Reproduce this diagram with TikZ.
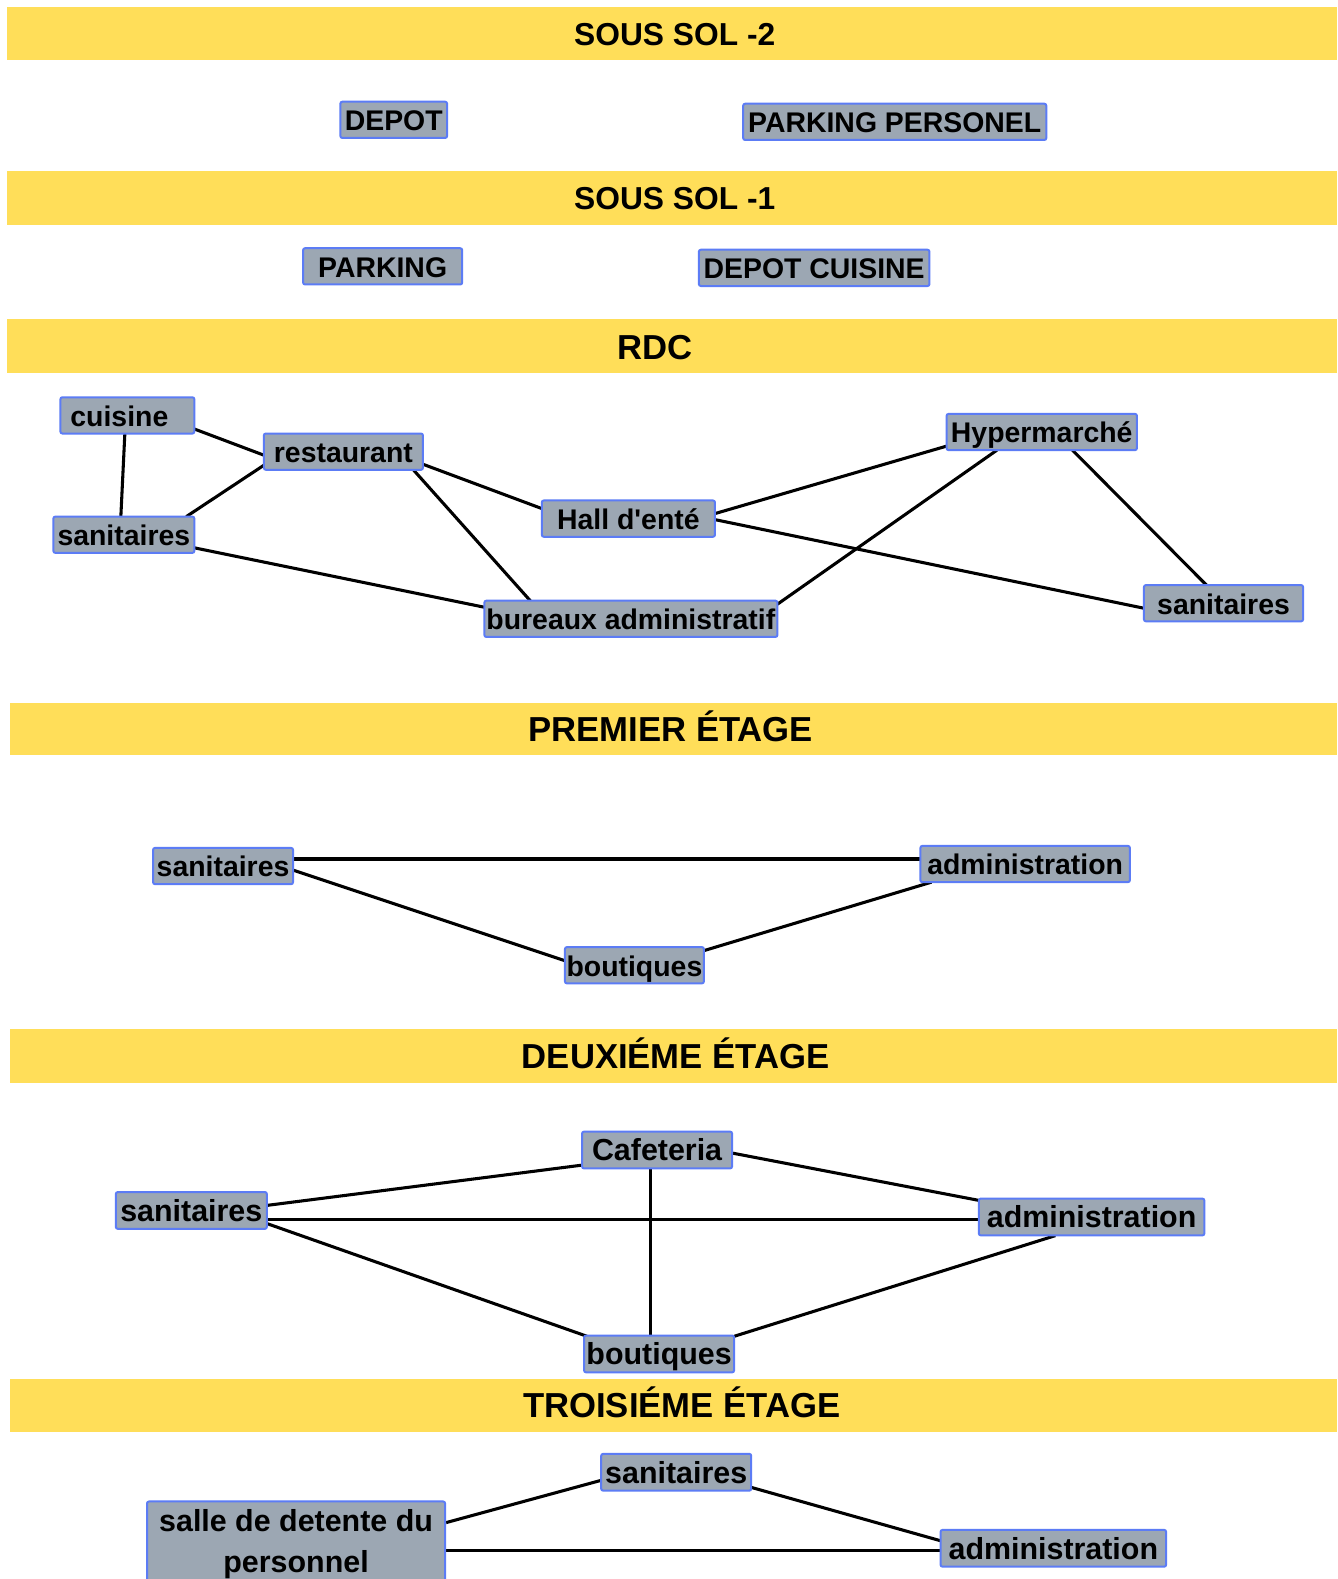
\documentclass[tikz,border=0pt]{standalone}
\usepackage{fontspec}
\usetikzlibrary{calc}
\newfontfamily\ls{Liberation Sans}
\definecolor{bandyellow}{HTML}{FFDE59}
\definecolor{boxgray}{HTML}{9CA7B3}
\definecolor{boxblue}{HTML}{5C7CF5}
\pgfdeclarelayer{back}
\pgfdeclarelayer{bg}
\pgfsetlayers{back,bg,main}
\tikzset{
  nb/.style={draw=boxblue, fill=boxgray, line width=1.5pt, rounded corners=1.5pt,
    inner xsep=0pt, inner ysep=0pt, minimum height=36*0.7551pt,
    text height=21.7pt, text depth=5.5pt, font=\ls\bfseries\fontsize{21.3}{25}\selectfont},
  nbb/.style={nb, minimum height=36.5*0.7551pt, text height=22pt, text depth=5.6pt,
    font=\ls\bfseries\fontsize{22.8}{27}\selectfont},
  w/.style={minimum width=#1*0.7551pt},
  title/.style={anchor=base, inner sep=0pt, font=\ls\bfseries\fontsize{26}{30}\selectfont},
  titlesm/.style={title, font=\ls\bfseries\fontsize{23.8}{28}\selectfont},
  band/.style={fill=bandyellow},
  link/.style={line width=2.3pt, black}
}
\begin{document}
\begin{tikzpicture}[x=0.7551pt, y=-0.7551pt]
\path[use as bounding box] (0,0) rectangle (1328,1568);
\begin{pgfonlayer}{back}
\fill[white] (0,0) rectangle (1328,1568);
\end{pgfonlayer}
\clip (0,0) rectangle (1328,1568);

% bands
\fill[band] (7,7) rectangle (1328,60);
\fill[band] (7,170) rectangle (1328,223);
\fill[band] (7,317) rectangle (1328,370);
\fill[band] (10,698) rectangle (1328,750);
\fill[band] (10,1022) rectangle (1328,1075);
\fill[band] (10,1369) rectangle (1328,1422);

\node[titlesm] (t1) at (670,45) {SOUS SOL -2};
\node[titlesm] (t2) at (670,208) {SOUS SOL -1};
\node[title] (t3) at (650,357) {RDC};
\node[title] (t4) at (666,736) {PREMIER ÉTAGE};
\node[title] (t5) at (671,1061) {DEUXIÉME ÉTAGE};
\node[title] (t6) at (677,1408) {TROISIÉME ÉTAGE};

% sous sol -2
\node[nb, w=106] (dp) at (391,119) {DEPOT};
\node[nb, w=301] (pp) at (888.5,121) {PARKING PERSONEL};
% sous sol -1
\node[nb, w=158] (pk) at (380,264.5) {PARKING};
\node[nb, w=229] (dc) at (808.5,266) {DEPOT CUISINE};

% RDC
\node[nb, w=133] (cu) at (126.5,412.5) {cuisine\kern12pt};
\node[nb, w=158] (re) at (341,448.5) {restaurant};
\node[nb, w=140] (sl) at (123,531) {sanitaires};
\node[nb, w=172] (ha) at (624,515) {Hall d'enté};
\node[nb, w=291] (bu) at (626.5,614.5) {bureaux administratif};
\node[nb, w=189] (hy) at (1034.5,429) {Hypermarché};
\node[nb, w=158] (sr) at (1215,599) {sanitaires};

% premier
\node[nb, w=139] (s1) at (221.5,860) {sanitaires};
\node[nb, w=208] (a1) at (1018,858) {administration};
\node[nb, w=138] (b1) at (630,958.5) {boutiques};

% deuxieme
\node[nbb, w=149] (c2) at (652.5,1142) {Cafeteria};
\node[nbb, w=150] (s2) at (190,1202) {sanitaires};
\node[nbb, w=224] (a2) at (1084,1208.5) {administration};
\node[nbb, w=149] (b2) at (654.5,1344.5) {boutiques};

% troisieme
\node[nbb, w=149] (s3) at (671.5,1462) {sanitaires};
\node[nbb, w=224] (a3) at (1046,1537.5) {administration};
\node[draw=boxblue, fill=boxgray, line width=1.5pt, rounded corners=1.5pt,
  anchor=north, minimum width=296*0.7551pt, inner xsep=0pt, inner ysep=6pt,
  align=center, font=\ls\bfseries\fontsize{22.8}{31}\selectfont]
  (sd) at (294,1490) {salle de detente du\\personnel};

\begin{pgfonlayer}{bg}
% RDC
\draw[link] ($(cu)+(66.5,13.5)$) -- ($(re)+(-79,3.5)$);
\draw[link] ($(cu)+(-2.5,17.5)$) -- ($(sl)+(-3,-18)$);
\draw[link] ($(sl)+(62,-18)$) -- ($(re)+(-79,13.5)$);
\draw[link] ($(re)+(79,12.5)$) -- ($(ha)+(-86,-10)$);
\draw[link] ($(re)+(69,17.5)$) -- ($(bu)+(-99.5,-17.5)$);
\draw[link] ($(sl)+(70,13)$) -- ($(bu)+(-145.5,-11.5)$);
\draw[link] ($(ha)+(86,-5)$) -- ($(hy)+(-94.5,14)$);
\draw[link] ($(ha)+(86,1)$) -- ($(sr)+(-79,5)$);
\draw[link] ($(bu)+(145.5,-14.5)$) -- ($(hy)+(-44.5,18)$);
\draw[link] ($(hy)+(30.5,18)$) -- ($(sr)+(-17,-18)$);
% premier
\draw[link] ($(s1)+(69.5,-7)$) -- ($(a1)+(-104,-5)$);
\draw[link] ($(s1)+(69.5,4)$) -- ($(b1)+(-69,-4.5)$);
\draw[link] ($(b1)+(69,-14.5)$) -- ($(a1)+(-93,18)$);
% deuxieme
\draw[link] ($(s2)+(75,-5)$) -- ($(c2)+(-74.5,15)$);
\draw[link] ($(s2)+(75,9)$) -- ($(a2)+(-112,2.5)$);
\draw[link] ($(s2)+(75,13)$) -- ($(b2)+(-71.5,-17.5)$);
\draw[link] ($(c2)+(74.5,3)$) -- ($(a2)+(-112,-16.5)$);
\draw[link] ($(c2)+(-6.5,18)$) -- ($(b2)+(-8.5,-17.5)$);
\draw[link] ($(b2)+(74.5,-17.5)$) -- ($(a2)+(-36,18.5)$);
% troisieme
\draw[link] ($(sd.north east)+(0,22)$) -- ($(s3)+(-74.5,8)$);
\draw[link] ($(sd.north east)+(0,50)$) -- ($(a3)+(-112,2.5)$);
\draw[link] ($(s3)+(74.5,15)$) -- ($(a3)+(-112,-7.5)$);
\end{pgfonlayer}
\end{tikzpicture}
\end{document}
